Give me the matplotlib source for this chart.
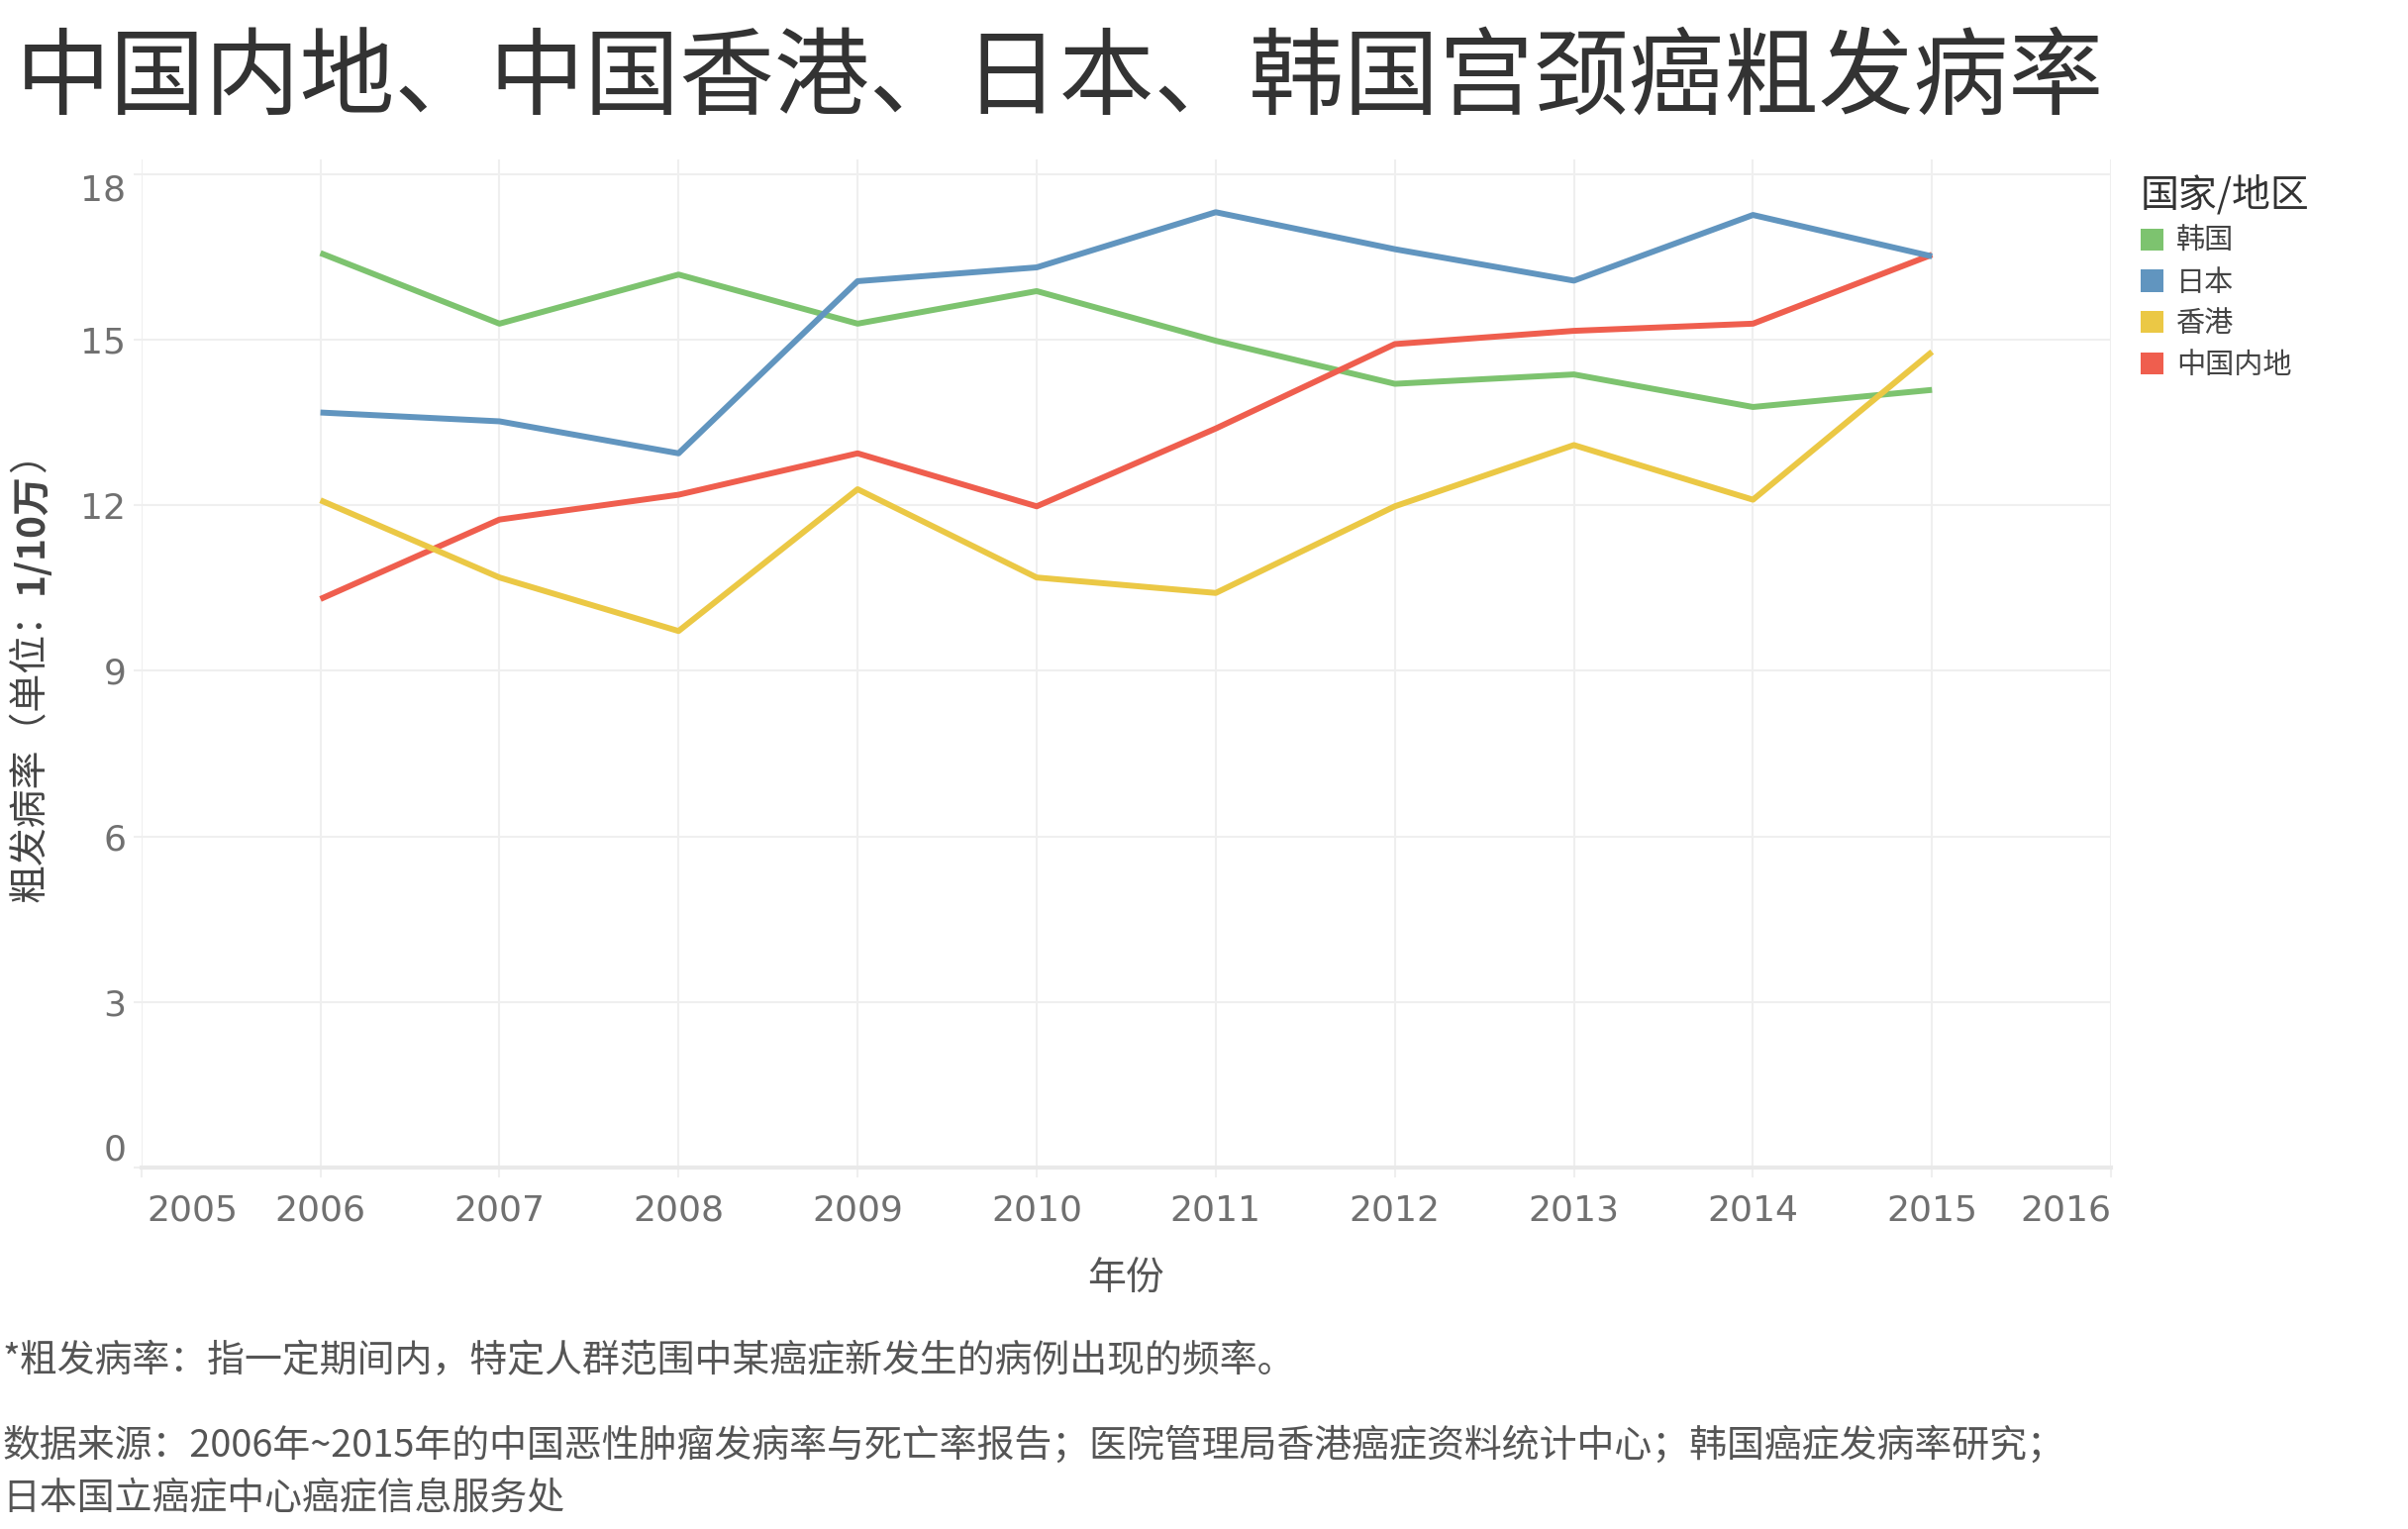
import matplotlib
matplotlib.use('Agg')
import matplotlib.pyplot as plt
from matplotlib.patches import Patch
from matplotlib.transforms import offset_copy

plt.rcParams['font.family'] = ['Noto Sans CJK SC', 'DejaVu Sans']

# data
years = [2006, 2007, 2008, 2009, 2010, 2011, 2012, 2013, 2014, 2015]
korea = [16.57, 15.29, 16.18, 15.29, 15.88, 14.98, 14.20, 14.37, 13.78, 14.09]
japan = [13.68, 13.52, 12.94, 16.06, 16.31, 17.31, 16.64, 16.07, 17.26, 16.51]
hongkong = [12.09, 10.69, 9.72, 12.29, 10.69, 10.41, 11.98, 13.09, 12.10, 14.78]
mainland = [10.30, 11.74, 12.19, 12.94, 11.98, 13.39, 14.92, 15.16, 15.29, 16.54]

series_names = ['韩国', '日本', '香港', '中国内地']
series_values = [korea, japan, hongkong, mainland]
colors = ['#7dc36f', '#6195bf', '#ebc845', '#ef5e4e']
zorders = [3, 6, 5, 4]

x_ticks = list(range(2005, 2017))
y_ticks = [0, 3, 6, 9, 12, 15, 18]

tick_color = '#707070'
grid_color = '#efefef'

fig = plt.figure(figsize=(24.32, 15.44), dpi=100)
ax = fig.add_axes([0.0587, 0.2365, 0.818, 0.659])

for name, vals, c, z in zip(series_names, series_values, colors, zorders):
    ax.plot(years, vals, color=c, lw=4.3, zorder=z, solid_capstyle='butt')

ax.set_xlim(2005, 2016)
ax.set_ylim(0, 18.26)
ax.set_xticks(x_ticks)
ax.set_yticks(y_ticks)
ax.set_xticklabels([str(x) for x in x_ticks])
ax.set_yticklabels([str(y) for y in y_ticks])

ax.grid(True, color=grid_color, lw=1.5, zorder=0)
ax.set_axisbelow(True)
for s in ['top', 'right', 'left']:
    ax.spines[s].set_visible(False)
ax.spines['bottom'].set_color('#e9e9e9')
ax.spines['bottom'].set_linewidth(3)

ax.tick_params(axis='x', length=7, width=1.5, color=grid_color, pad=12,
               labelsize=26, labelcolor=tick_color)
ax.tick_params(axis='y', length=6, width=1.5, color=grid_color, pad=5,
               labelsize=26, labelcolor=tick_color)
for lab in ax.get_xticklabels() + ax.get_yticklabels():
    lab.set_family(['DejaVu Sans'])

xl = ax.get_xticklabels()
xl[0].set_ha('left')
xl[0].set_transform(offset_copy(xl[0].get_transform(), fig=fig, x=6, units='dots'))
xl[-1].set_ha('right')
yl = ax.get_yticklabels()
yl[0].set_va('bottom')
yl[-1].set_va('top')

# title and axis labels
fig.text(0.0064, 0.948, '中国内地、中国香港、日本、韩国宫颈癌粗发病率',
         fontsize=69, color='#333333', ha='left', va='center', fontweight='light')
fig.text(0.4675, 0.1638, '年份', fontsize=28, color='#555555', ha='center', va='center')

# y label: normal part, bold unit, closing bracket
fig.canvas.draw()
r = fig.canvas.get_renderer()
parts = [('粗发病率（单位：', 'normal'), ('1/10万', 'bold'), ('）', 'normal')]
objs = []
for s, w in parts:
    objs.append(fig.text(0, 0, s, rotation=90, fontsize=28, color='#444444',
                         fontweight=w, ha='center', va='bottom'))
heights = [o.get_window_extent(r).height for o in objs]
total = sum(heights)
y0 = 0.563 * fig.bbox.height - total / 2
for o, h in zip(objs, heights):
    o.set_position((0.0128, y0 / fig.bbox.height))
    y0 += h

# legend
handles = [Patch(facecolor=c, edgecolor='none') for c in colors]
leg = fig.legend(handles, series_names, loc='upper left',
                 bbox_to_anchor=(0.884, 0.893), frameon=False,
                 title='国家/地区', title_fontsize=28, fontsize=21,
                 handlelength=0.8, handleheight=0.8, handletextpad=0.45,
                 labelspacing=0.4, borderaxespad=0, alignment='left')
leg.get_title().set_color('#333333')
for t in leg.get_texts():
    t.set_color('#444444')

# footnotes
fig.text(0.001, 0.1095, '*粗发病率：指一定期间内，特定人群范围中某癌症新发生的病例出现的频率。',
         fontsize=27.3, color='#555555', ha='left', va='center')
fig.text(0.001, 0.0543, '数据来源：2006年~2015年的中国恶性肿瘤发病率与死亡率报告；医院管理局香港癌症资料统计中心；韩国癌症发病率研究；',
         fontsize=27.3, color='#555555', ha='left', va='center')
fig.text(0.001, 0.0201, '日本国立癌症中心癌症信息服务处',
         fontsize=27.3, color='#555555', ha='left', va='center')

fig.savefig('out.png', dpi=100, facecolor='white')
